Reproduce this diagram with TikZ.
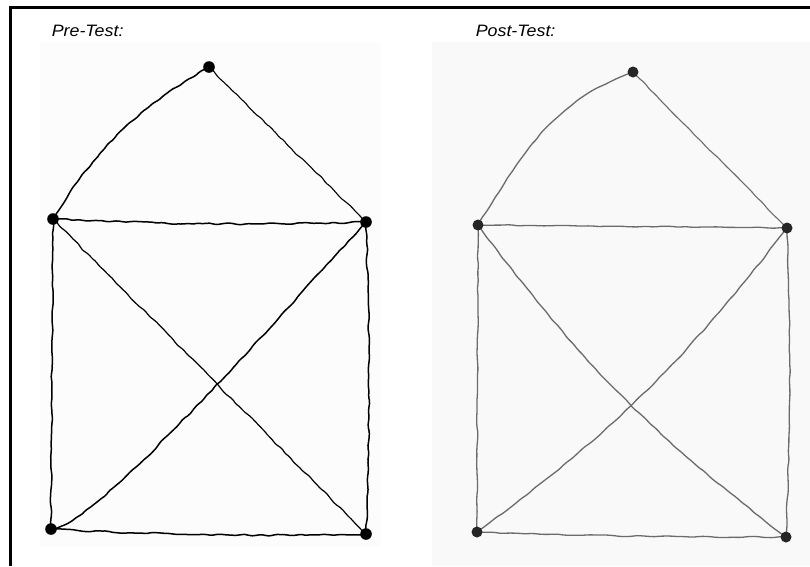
\documentclass[tikz,border=0pt]{standalone}
\usepackage{fontspec}
\newfontfamily\testfont{Liberation Sans}
\usepackage{tikz}
\usetikzlibrary{calc,decorations.pathmorphing}

\begin{document}
\begin{tikzpicture}[x=1pt,y=1pt,
  hand/.style={decorate,decoration={random steps,segment length=5pt,amplitude=0.95pt},
    rounded corners=2pt,line width=1.5pt,line cap=round,line join=round},
  pre/.style={hand,black},
  post/.style={hand,draw=black!58,line width=1.3pt,
    decoration={random steps,segment length=8pt,amplitude=0.65pt}},
  title/.style={anchor=base west,font=\testfont\itshape\fontsize{16.5}{19}\selectfont,xscale=1.08}]
\pgfmathsetseed{11}
\useasboundingbox (0,0) rectangle (810,-566);
% scanned sheets
\fill[black!1] (40,-42) rectangle (381,-546);
\fill[black!2.5] (432,-42) rectangle (810,-566);
% frame
\draw[line width=2.4pt] (10.3,-566) -- (10.3,-7.3) -- (810,-7.3);
\node[title] (pre) at (48,-36) {Pre-Test:};
\node[title] (post) at (472,-36) {Post-Test:};

% pre-test house
\coordinate (a1) at (209,-67);
\coordinate (l1) at (53,-219);
\coordinate (r1) at (366,-222);
\coordinate (bl1) at (51,-529);
\coordinate (br1) at (366,-534);
\draw[pre] (l1) to[bend left=14] (a1);
\draw[pre,line width=1.1pt] (a1) -- (r1);
\draw[pre] (l1) to[bend right=2] (r1);
\draw[pre] (l1) -- (bl1);
\draw[pre] (r1) to[bend left=2] (br1);
\draw[pre,line width=1.2pt] (l1) -- (br1);
\draw[pre] (bl1) .. controls +(45,4) and +(-110,-120) .. (r1);
\draw[pre] (bl1) to[bend right=2] (br1);
\foreach \n in {a1,l1,r1,bl1,br1}
  \fill (\n) circle(5.8);

% post-test house
\coordinate (a2) at (633,-72);
\coordinate (l2) at (478,-225);
\coordinate (r2) at (787,-228);
\coordinate (bl2) at (477,-532);
\coordinate (br2) at (786,-537);
\draw[post] (l2) to[out=58,in=200] (a2);
\draw[post,line width=1.1pt] (a2) -- (r2);
\draw[post] (l2) -- (r2);
\draw[post] (l2) -- (bl2);
\draw[post] (r2) to[bend left=2] (br2);
\draw[post] (l2) to[bend right=8] (br2);
\draw[post] (bl2) to[bend right=8] (r2);
\draw[post] (bl2) to[bend right=1] (br2);
\foreach \n in {a2,l2,r2,bl2,br2}
  \fill[black!85] (\n) circle(5.5);
\end{tikzpicture}
\end{document}
